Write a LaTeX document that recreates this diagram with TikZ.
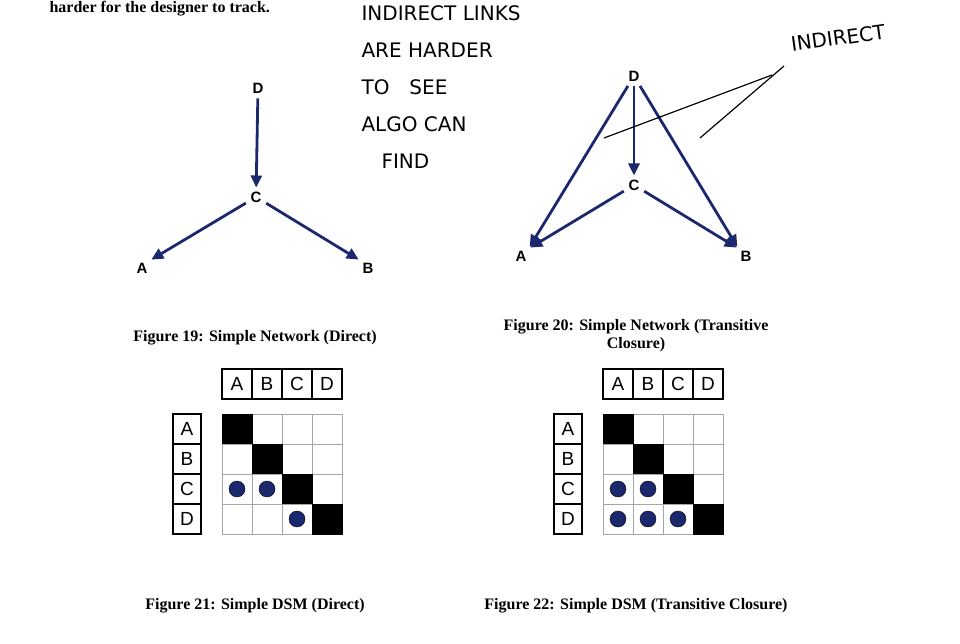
\documentclass[tikz,border=0pt]{standalone}
\usepackage{fontspec}
\setmainfont{Liberation Serif}
\newfontfamily\labelfont{Liberation Sans}
\newfontfamily\handfont{DejaVu Sans}
\usetikzlibrary{positioning, arrows.meta}
\definecolor{linkblue}{RGB}{28,40,110}
\tikzset{
	vertex/.style={font=\labelfont\bfseries\fontsize{15}{15}\selectfont, inner sep=2pt},
	link/.style={-{Triangle[length=12pt,width=11pt]}, linkblue, line width=2.8pt, shorten >=2pt, shorten <=3pt},
	caption/.style={font=\bfseries\fontsize{16}{18}\selectfont, align=center},
	hand/.style={font=\handfont\fontsize{20}{37}\selectfont, align=left},
	cellbox/.style={draw, line width=1.4pt, minimum width=30pt, minimum height=30pt, font=\labelfont\fontsize{19}{19}\selectfont, inner sep=0pt},
	cell/.style={draw, gray!70, line width=0.8pt, minimum width=30pt, minimum height=30pt, inner sep=0pt},
	dsm dot/.style={circle, fill=linkblue, draw=black, minimum size=16pt, inner sep=0pt}
}
\begin{document}
\begin{tikzpicture}[x=1pt, y=-1pt]
	\useasboundingbox (0,0) rectangle (960,643);

	\node [anchor=west, font=\bfseries\fontsize{16}{18}\selectfont] (intro) at (46,9) {harder for the designer to track.};

	% figure 19
	\node [vertex] (d1) at (258,88) {D};
	\node [vertex] (c1) at (256,197) {C};
	\node [vertex] (a1) at (142,268) {A};
	\node [vertex] (b1) at (368,268) {B};
	\draw [link] (d1) -- (c1);
	\draw [link] (c1) -- (a1.north east);
	\draw [link] (c1) -- (b1.north west);

	% figure 20
	\node [vertex] (d2) at (634,76) {D};
	\node [vertex] (c2) at (634,185) {C};
	\node [vertex] (a2) at (521,256) {A};
	\node [vertex] (b2) at (746,256) {B};
	\draw [link] (d2) -- (c2);
	\draw [link] (d2) -- (a2.north east);
	\draw [link] (d2) -- (b2.north west);
	\draw [link] (c2) -- (a2.north east);
	\draw [link] (c2) -- (b2.north west);

	% notes
	\node [hand, anchor=north west] (note) at (358,2) {INDIRECT LINKS\\ARE HARDER\\TO\quad SEE\\ALGO CAN\\\quad FIND};
	\node [hand, rotate=8] (tag) at (838,38) {INDIRECT};
	\coordinate (p1) at (604,138);
	\coordinate (p2) at (772,75);
	\coordinate (p3) at (700,138);
	\coordinate (p4) at (784,66);
	\draw [line width=1.2pt] (p1) -- (p2);
	\draw [line width=1.2pt] (p3) -- (p4);

	\node [caption] (cap19) at (255,338) {Figure 19: Simple Network (Direct)};
	\node [caption] (cap20) at (636,336) {Figure 20: Simple Network (Transitive\\Closure)};

	% dsm grids
	\foreach \dx/\n/\marks in {0/21/{3/1,3/2,4/3}, 381/22/{3/1,3/2,4/1,4/2,4/3}} {
		\foreach \l [count=\i] in {A, B, C, D} {
			\node [cellbox] (top\n-\i) at (\dx+207+\i*30,384) {\l};
			\node [cellbox, minimum width=28pt] (side\n-\i) at (\dx+187,399+\i*30) {\l};
			\foreach \j in {1, ..., 4}
				\node [cell] (cell\n-\i-\j) at (\dx+207+\j*30,399+\i*30) {};
			\node [cell, fill=black, draw=black] at (cell\n-\i-\i) {};
		}
		\foreach \r/\c in \marks
			\node [dsm dot] at (cell\n-\r-\c) {};
	}

	\node [caption] (cap21) at (255,606) {Figure 21: Simple DSM (Direct)};
	\node [caption] (cap22) at (636,606) {Figure 22: Simple DSM (Transitive Closure)};
\end{tikzpicture}
\end{document}
